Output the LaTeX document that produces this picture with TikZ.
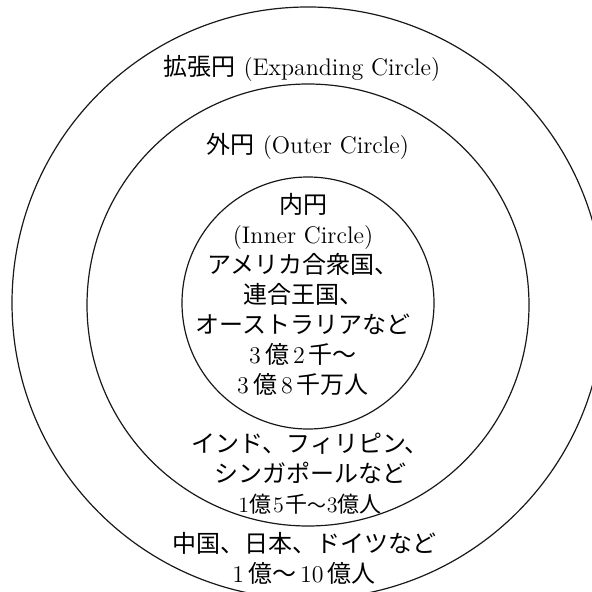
\documentclass[tikz,border=0pt]{standalone}
\usepackage{fontspec}
\newfontfamily\jp{Noto Sans CJK JP}
\newcommand{\J}[1]{{\jp #1}}
\begin{document}
\begin{tikzpicture}[x=0.5pt,y=-0.5pt,
  ring/.style={draw=black!90, line width=0.6pt, circle, inner sep=0pt},
  lbl/.style={align=center, inner sep=0pt, font=\fontsize{12}{15}\selectfont}]
\useasboundingbox (0,0) rectangle (592,592);
\clip (0,0) rectangle (592,592);
\coordinate (c) at (308,303);
\coordinate (cm) at (308,305);
\node[ring, minimum size=296pt] (outer) at (c) {};
\node[ring, minimum size=221pt] (middle) at (cm) {};
\node[ring, minimum size=126pt] (inner) at (c) {};
\node[lbl] (exp) at (302,68) {\J{拡張円} (Expanding Circle)};
\node[lbl] (out) at (308,146) {\J{外円} (Outer Circle)};
\node[lbl, anchor=north] (inn) at (303,193) {\J{内円}\\(Inner Circle)\\\J{アメリカ合衆国、}\\\J{連合王国、}\\\J{オーストラリアなど}\\3\,\J{億}\,2\,\J{千～}\\3\,\J{億}\,8\,\J{千万人}};
\node[lbl, anchor=north] (outtxt) at (310,433) {\J{インド、フィリピン、}\\\J{シンガポールなど}\\{\fontsize{11}{15}\selectfont 1\J{億}\kern1pt5\kern1pt\J{千}{\fontsize{9.5}{15}\selectfont\J{～}}3\J{億人}}};
\node[lbl, anchor=north] (exptxt) at (304,532) {\J{中国、日本、ドイツなど}\\1\,\J{億～}\,10\,\J{億人}};
\end{tikzpicture}
\end{document}
